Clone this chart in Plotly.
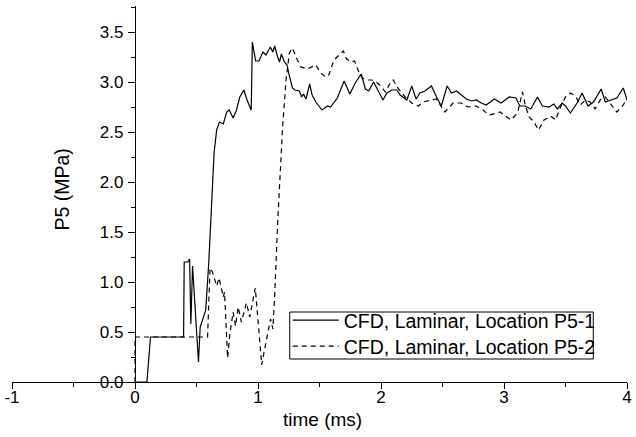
import plotly.graph_objects as go

# Series P5-1 (solid)
t1 = [0, 0.097, 0.126, 0.395, 0.40, 0.43, 0.444, 0.454, 0.468, 0.516, 0.53, 0.55, 0.575, 0.60,
      0.643, 0.664, 0.686, 0.718, 0.745, 0.766, 0.798, 0.825, 0.852, 0.885, 0.911, 0.945, 0.954,
      0.981, 1.008, 1.04, 1.065, 1.10, 1.12, 1.135, 1.148, 1.16, 1.175, 1.19, 1.215, 1.236, 1.255,
      1.28, 1.30, 1.336, 1.355, 1.37, 1.39, 1.42, 1.44, 1.47, 1.52, 1.565, 1.59, 1.645, 1.70,
      1.747, 1.79, 1.839, 1.873, 1.90, 1.94, 1.98, 2.016, 2.048, 2.089, 2.13, 2.155, 2.21, 2.25,
      2.285, 2.317, 2.357, 2.41, 2.452, 2.49, 2.538, 2.573, 2.613, 2.653, 2.694, 2.734, 2.774,
      2.815, 2.855, 2.922, 2.976, 3.043, 3.097, 3.129, 3.17, 3.218, 3.272, 3.312, 3.365, 3.406,
      3.433, 3.473, 3.50, 3.54, 3.594, 3.635, 3.683, 3.728, 3.79, 3.823, 3.917, 3.97, 4.0]
p1 = [0, 0, 0.45, 0.45, 1.20, 1.20, 1.23, 0.58, 1.16, 0.20, 0.55, 0.63, 0.72, 1.20,
      2.29, 2.52, 2.60, 2.58, 2.70, 2.72, 2.64, 2.72, 2.85, 2.92, 2.82, 2.72, 3.40,
      3.21, 3.21, 3.30, 3.27, 3.35, 3.30, 3.36, 3.29, 3.25, 3.20, 3.28, 3.20, 3.17, 3.06,
      2.94, 2.92, 2.91, 2.85, 2.88, 2.83, 2.98, 2.87, 2.80, 2.72, 2.76, 2.75, 2.84, 3.01,
      2.88, 2.99, 3.08, 2.93, 2.91, 3.00, 2.91, 2.82, 2.89, 2.92, 2.92, 2.87, 2.82, 2.96,
      2.83, 2.89, 2.91, 2.96, 2.85, 2.76, 2.96, 2.89, 2.91, 2.87, 2.83, 2.81, 2.82,
      2.79, 2.77, 2.83, 2.79, 2.85, 2.84, 2.76, 2.76, 2.73, 2.85, 2.76, 2.75, 2.78,
      2.73, 2.79, 2.76, 2.69, 2.79, 2.89, 2.76, 2.80, 2.93, 2.80, 2.84, 2.94, 2.82]

# Series P5-2 (dashed)
t2 = [0, 0, 0.59, 0.61, 0.63, 0.664, 0.683, 0.718, 0.728, 0.753, 0.772, 0.798, 0.817, 0.839,
      0.865, 0.906, 0.933, 0.952, 0.978, 1.0, 1.03, 1.054, 1.075, 1.102, 1.121, 1.135, 1.161,
      1.183, 1.20, 1.228, 1.255, 1.28, 1.32, 1.35, 1.40, 1.47, 1.51, 1.55, 1.575, 1.618, 1.659,
      1.694, 1.72, 1.76, 1.785, 1.82, 1.847, 1.89, 1.927, 1.96, 1.99, 2.035, 2.075, 2.10, 2.13,
      2.17, 2.196, 2.25, 2.304, 2.34, 2.41, 2.45, 2.519, 2.586, 2.65, 2.707, 2.774, 2.828, 2.88,
      2.935, 2.97, 3.0, 3.056, 3.11, 3.15, 3.175, 3.204, 3.245, 3.28, 3.325, 3.379, 3.419, 3.46,
      3.50, 3.54, 3.58, 3.621, 3.66, 3.70, 3.74, 3.782, 3.823, 3.87, 3.917, 3.97, 4.0]
p2 = [0, 0.45, 0.45, 1.14, 1.10, 0.96, 1.04, 0.85, 0.90, 0.24, 0.49, 0.70, 0.56, 0.75,
      0.60, 0.79, 0.65, 0.79, 0.94, 0.62, 0.17, 0.33, 0.48, 0.63, 0.53, 0.85, 1.62,
      2.22, 2.55, 3.02, 3.29, 3.34, 3.22, 3.15, 3.13, 3.17, 3.09, 3.05, 3.07, 3.22, 3.27,
      3.31, 3.23, 3.20, 3.21, 3.10, 3.04, 3.02, 3.02, 3.00, 2.97, 2.90, 2.99, 3.02, 2.95,
      2.89, 2.85, 2.79, 2.76, 2.80, 2.82, 2.83, 2.70, 2.79, 2.79, 2.75, 2.76, 2.72, 2.67,
      2.69, 2.70, 2.67, 2.62, 2.69, 2.90, 2.76, 2.65, 2.60, 2.52, 2.62, 2.66, 2.62, 2.75,
      2.85, 2.89, 2.86, 2.77, 2.82, 2.80, 2.73, 2.82, 2.85, 2.78, 2.70, 2.77, 2.84]

names = ["CFD, Laminar, Location P5-1", "CFD, Laminar, Location P5-2"]
x_tickvals = [-1, 0, 1, 2, 3, 4]
x_ticktext = ["-1", "0", "1", "2", "3", "4"]
x_title = "time (ms)"
y_title = "P5 (MPa)"

FONT = "Liberation Sans, Arial, sans-serif"
W, H = 636, 437
ML, MR, MT, MB = 12, 4, 6, 55
PW, PH = W - ML - MR, H - MT - MB


def px_x(px):
    return (px - ML) / PW


def px_y(py):
    return (H - MB - py) / PH


fig = go.Figure()
fig.add_trace(go.Scatter(x=t1, y=p1, mode="lines", name=names[0], legend="legend",
                         line=dict(color="black", width=1.2)))
fig.add_trace(go.Scatter(x=t2, y=p2, mode="lines", name=names[1], legend="legend2",
                         line=dict(color="black", width=1.2, dash="5px,4px")))

leg_common = dict(xanchor="left", yanchor="top", borderwidth=0, bgcolor="rgba(0,0,0,0)",
                  font=dict(size=19.5, family=FONT, color="black"), itemwidth=46)

fig.update_layout(
    width=W, height=H,
    margin=dict(l=ML, r=MR, t=MT, b=MB),
    paper_bgcolor="white", plot_bgcolor="white",
    font=dict(family=FONT, color="black", size=17),
    showlegend=True,
    legend=dict(x=px_x(290), y=px_y(301), **leg_common),
    legend2=dict(x=px_x(290), y=px_y(327), **leg_common),
    shapes=[dict(type="rect", xref="paper", yref="paper",
                 x0=px_x(292), x1=px_x(598), y0=px_y(359), y1=px_y(312),
                 line=dict(color="black", width=1), fillcolor="rgba(0,0,0,0)", layer="above")],
    xaxis=dict(range=[-1, 4], tickvals=x_tickvals, ticktext=x_ticktext,
               showgrid=False, zeroline=False,
               showline=True, linecolor="black", linewidth=1.2,
               ticks="outside", ticklen=6, tickwidth=1.2, tickcolor="black",
               minor=dict(dtick=0.5, tick0=0, ticks="outside", ticklen=4, tickwidth=1.2,
                          tickcolor="black"),
               tickfont=dict(size=17), ticklabeloverflow="allow", ticklabelstandoff=-7),
    yaxis=dict(range=[0, 3.76], dtick=0.5, tick0=0, tickformat=".1f", showgrid=False,
               zeroline=False, showline=True, linecolor="black", linewidth=1.2,
               anchor="free", position=0.2,
               ticks="outside", ticklen=7, tickwidth=1.2, tickcolor="black",
               minor=dict(dtick=0.25, ticks="outside", ticklen=4, tickwidth=1.2, tickcolor="black"),
               tickfont=dict(size=17), ticklabelstandoff=1),
    annotations=[
        dict(text=x_title, xref="paper", yref="paper", x=px_x(325), y=px_y(420),
             xanchor="center", yanchor="middle", showarrow=False, font=dict(size=19)),
        dict(text=y_title, xref="paper", yref="paper", x=px_x(62), y=px_y(190),
             xanchor="center", yanchor="middle", textangle=-90, showarrow=False,
             font=dict(size=19.5)),
    ],
)

fig.write_html("out.html")
